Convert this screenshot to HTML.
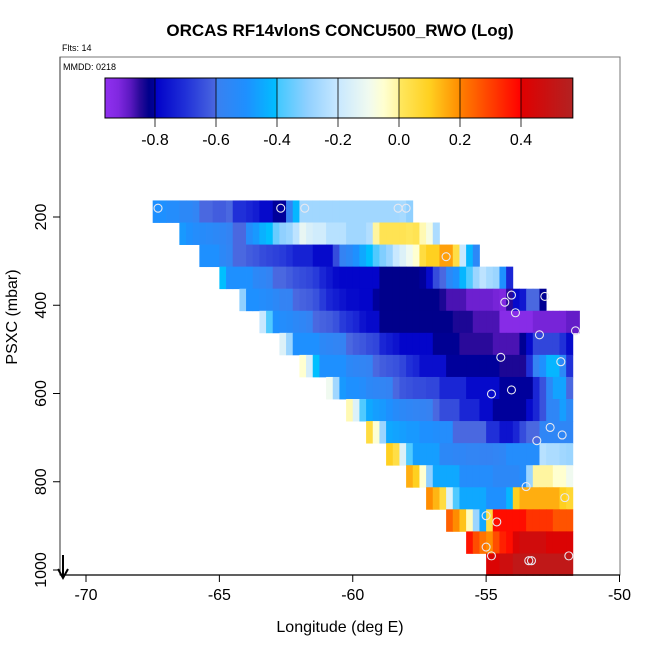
<!DOCTYPE html>
<html><head><meta charset="utf-8">
<style>
html,body{margin:0;padding:0;background:#fff;}
svg{display:block;font-family:"Liberation Sans",sans-serif;}
</style></head>
<body>
<svg id="chart" width="650" height="650" viewBox="0 0 650 650" xmlns="http://www.w3.org/2000/svg">
<defs><linearGradient id="cbgrad" x1="0" x2="1" y1="0" y2="0"></linearGradient></defs>
<text x="340" y="36" text-anchor="middle" font-size="17" font-weight="bold">ORCAS RF14vlonS CONCU500_RWO (Log)</text>
<text x="62" y="51" font-size="9">Flts: 14</text>
<rect x="60" y="57" width="560" height="518" fill="none" stroke="#777" stroke-width="1"/>
<text x="63" y="70" font-size="9">MMDD: 0218</text>
<g id="heat"></g>
<g id="pts"></g>
<g id="cbar"></g>
<g id="axes"></g>
<line x1="63" y1="555" x2="63" y2="577" stroke="#000" stroke-width="2"/>
<path d="M58,569 L63,578 L68,569" fill="none" stroke="#000" stroke-width="2"/>
<text x="340" y="632" text-anchor="middle" font-size="16">Longitude (deg E)</text>
<text transform="translate(17,317) rotate(-90)" text-anchor="middle" font-size="16">PSXC (mbar)</text>
</svg>
<script>
const xTicks = [-70, -65, -60, -55, -50];
const yTicks = [200, 400, 600, 800, 1000];
const cbTicks = [-0.8, -0.6, -0.4, -0.2, 0.0, 0.2, 0.4];
const cbTickLabels = ["-0.8", "-0.6", "-0.4", "-0.2", "0.0", "0.2", "0.4"];
const lonStart = -67.5;
const lonStep = 0.25;
const pStart = 162.5;
const pStep = 50;
const rowStart = [0,4,7,10,13,16,19,22,26,29,32,35,38,41,44,47,50];
const rowValues = [
[-0.5,-0.5,-0.52,-0.52,-0.55,-0.55,-0.57,-0.6,-0.6,-0.62,-0.62,-0.6,-0.7,-0.7,-0.72,-0.74,-0.78,-0.78,-0.8,-0.8,-0.58,-0.42,-0.27,-0.27,-0.27,-0.27,-0.27,-0.27,-0.27,-0.27,-0.27,-0.27,-0.27,-0.27,-0.27,-0.27,-0.27,-0.26,-0.3],
[-0.48,-0.5,-0.52,-0.53,-0.54,-0.55,-0.56,-0.58,-0.6,-0.6,-0.52,-0.48,-0.43,-0.4,-0.35,-0.3,-0.28,-0.22,-0.12,-0.16,-0.18,-0.18,-0.23,-0.23,-0.23,-0.27,-0.27,-0.27,-0.24,0.0,0.02,0.02,0.02,0.02,0.01,0.02,-0.02,-0.08,-0.25],
[-0.5,-0.5,-0.5,-0.55,-0.57,-0.6,-0.6,-0.62,-0.63,-0.65,-0.66,-0.67,-0.68,-0.7,-0.73,-0.73,-0.73,-0.78,-0.78,-0.78,-0.65,-0.58,-0.55,-0.5,-0.45,-0.4,-0.38,-0.32,-0.28,-0.2,-0.15,-0.1,-0.05,0.05,0.1,0.1,0.17,0.17,0.04,-0.2,-0.42,-0.55],
[-0.4,-0.5,-0.5,-0.5,-0.5,-0.55,-0.56,-0.58,-0.6,-0.6,-0.62,-0.64,-0.65,-0.66,-0.68,-0.72,-0.75,-0.78,-0.79,-0.79,-0.79,-0.79,-0.79,-0.79,-0.82,-0.82,-0.82,-0.82,-0.82,-0.82,-0.8,-0.78,-0.65,-0.6,-0.55,-0.5,-0.42,-0.38,-0.28,-0.22,-0.26,-0.28,-0.5,-0.72],
[-0.3,-0.5,-0.5,-0.52,-0.53,-0.55,-0.58,-0.58,-0.6,-0.61,-0.62,-0.64,-0.68,-0.72,-0.74,-0.76,-0.78,-0.78,-0.79,-0.79,-0.8,-0.82,-0.82,-0.82,-0.82,-0.82,-0.82,-0.82,-0.82,-0.82,-0.84,-0.87,-0.87,-0.87,-0.9,-0.9,-0.9,-0.9,-0.91,-0.92,-0.85,-0.78,-0.75,-0.6,-0.6,-0.81],
[-0.2,-0.38,-0.5,-0.52,-0.53,-0.55,-0.56,-0.58,-0.6,-0.61,-0.62,-0.64,-0.68,-0.7,-0.72,-0.76,-0.78,-0.78,-0.82,-0.82,-0.82,-0.82,-0.82,-0.82,-0.82,-0.82,-0.82,-0.82,-0.82,-0.84,-0.84,-0.84,-0.87,-0.87,-0.87,-0.87,-0.94,-0.94,-0.94,-0.94,-0.94,-0.91,-0.91,-0.91,-0.91,-0.91,-0.89,-0.89],
[-0.15,-0.28,-0.5,-0.5,-0.5,-0.5,-0.55,-0.56,-0.57,-0.58,-0.6,-0.62,-0.63,-0.65,-0.66,-0.72,-0.74,-0.76,-0.79,-0.79,-0.79,-0.79,-0.79,-0.81,-0.81,-0.81,-0.81,-0.85,-0.85,-0.85,-0.85,-0.85,-0.87,-0.87,-0.87,-0.87,-0.81,-0.78,-0.66,-0.66,-0.66,-0.66,-0.7,-0.78],
[-0.05,-0.17,-0.4,-0.5,-0.5,-0.5,-0.5,-0.55,-0.56,-0.57,-0.58,-0.6,-0.62,-0.63,-0.64,-0.66,-0.7,-0.72,-0.77,-0.77,-0.77,-0.77,-0.8,-0.8,-0.8,-0.8,-0.8,-0.8,-0.8,-0.8,-0.84,-0.84,-0.84,-0.84,-0.7,-0.58,-0.5,-0.42,-0.42,-0.55,-0.7],
[-0.1,-0.27,-0.48,-0.5,-0.5,-0.52,-0.55,-0.56,-0.57,-0.58,-0.6,-0.63,-0.64,-0.65,-0.65,-0.66,-0.66,-0.72,-0.72,-0.72,-0.72,-0.78,-0.78,-0.78,-0.78,-0.78,-0.8,-0.8,-0.8,-0.8,-0.8,-0.72,-0.64,-0.55,-0.46,-0.46,-0.6],
[-0.02,-0.15,-0.38,-0.45,-0.47,-0.48,-0.5,-0.53,-0.55,-0.56,-0.57,-0.58,-0.59,-0.6,-0.65,-0.65,-0.65,-0.72,-0.72,-0.72,-0.78,-0.78,-0.8,-0.8,-0.8,-0.8,-0.8,-0.78,-0.72,-0.64,-0.56,-0.56,-0.47,-0.55],
[0.05,-0.06,-0.28,-0.45,-0.46,-0.47,-0.48,-0.48,-0.5,-0.5,-0.51,-0.52,-0.52,-0.6,-0.6,-0.6,-0.6,-0.6,-0.7,-0.7,-0.76,-0.76,-0.72,-0.65,-0.6,-0.6,-0.56,-0.56,-0.56,-0.56,-0.56],
[0.1,0.04,-0.15,-0.38,-0.47,-0.47,-0.47,-0.47,-0.55,-0.55,-0.56,-0.56,-0.57,-0.57,-0.58,-0.58,-0.57,-0.56,-0.52,-0.52,-0.52,-0.52,-0.52,-0.23,-0.25,-0.25,-0.27,-0.28],
[0.15,0.1,-0.05,-0.3,-0.45,-0.45,-0.45,-0.45,-0.52,-0.52,-0.52,-0.52,-0.52,-0.55,-0.55,-0.55,-0.55,-0.52,-0.28,0.0,0.0,0.0,-0.05,-0.05,-0.1],
[0.2,0.14,0.05,-0.15,-0.38,-0.45,-0.45,-0.45,-0.45,-0.5,-0.5,-0.5,-0.42,0.1,0.15,0.15,0.15,0.15,0.15,0.15,0.1,0.07],
[0.25,0.2,0.12,-0.03,-0.28,-0.45,0.05,0.38,0.38,0.38,0.38,0.38,0.32,0.32,0.32,0.32,0.27,0.27,0.27],
[0.37,0.28,0.22,0.2,0.28,0.35,0.38,0.42,0.46,0.46,0.46,0.46,0.42,0.42,0.42,0.42],
[0.42,0.42,0.47,0.47,0.52,0.52,0.52,0.52,0.52,0.52,0.52,0.52,0.52]
];
const pointLon = [-67.3,-62.7,-61.8,-58.3,-58.0,-56.5,-54.05,-52.8,-54.3,-53.9,-53.0,-51.65,-54.45,-52.2,-54.8,-54.05,-52.6,-52.15,-53.1,-53.5,-52.05,-55.0,-54.6,-55.0,-54.8,-53.3,-53.4,-51.9];
const pointP = [180,180,180,180,180,290,377,380,393,417,467,458,518,528,601,592,677,694,707,811,836,877,891,948,968,979,979,968];

const NS = "http://www.w3.org/2000/svg";
const xScale = lon => 86 + (lon + 70) * 26.675;
const yScale = p => 217 + (p - 200) * 0.44125;
const cbScale = v => 399 + v * 305;

const stops = [[-0.964,'#9030f0'],[-0.92,'#8028e0'],[-0.88,'#5a18c0'],[-0.85,'#2a0a9a'],[-0.82,'#00008b'],[-0.8,'#00009b'],[-0.7999,'#0000c8'],[-0.7,'#2030d8'],[-0.6,'#4a68e0'],[-0.5999,'#3a80f0'],[-0.5,'#1e90ff'],[-0.4,'#00bfff'],[-0.3999,'#40c8ff'],[-0.3,'#90d0ff'],[-0.2,'#c8e8ff'],[-0.1,'#f0faf0'],[-0.05,'#ffffd0'],[0,'#fff5a0'],[0.0001,'#ffe860'],[0.1,'#ffd020'],[0.2,'#ff8c00'],[0.2001,'#ff8000'],[0.3,'#ff4000'],[0.4,'#ff0000'],[0.4001,'#e00000'],[0.57,'#b22222']];
function hex(h){return [parseInt(h.substr(1,2),16),parseInt(h.substr(3,2),16),parseInt(h.substr(5,2),16)];}
function colorOf(v){
  if(v<=stops[0][0]) return stops[0][1];
  for(let k=1;k<stops.length;k++){
    if(v<=stops[k][0]){
      const a=hex(stops[k-1][1]), b=hex(stops[k][1]);
      const t=(v-stops[k-1][0])/(stops[k][0]-stops[k-1][0]);
      return 'rgb('+a.map((c,j)=>Math.round(c+(b[j]-c)*t)).join(',')+')';
    }
  }
  return stops[stops.length-1][1];
}

const heat = document.getElementById('heat');
rowValues.forEach((vals, r) => {
  const p0 = pStart + r * pStep, p1 = p0 + pStep;
  const y0 = yScale(p0), y1 = yScale(p1);
  vals.forEach((v, j) => {
    const lon0 = lonStart + (rowStart[r] + j) * lonStep;
    const x0 = xScale(lon0), x1 = xScale(lon0 + lonStep);
    const rc = document.createElementNS(NS, 'rect');
    rc.setAttribute('x', x0); rc.setAttribute('y', y0);
    rc.setAttribute('width', x1 - x0 + 0.4); rc.setAttribute('height', y1 - y0 + 0.4);
    rc.setAttribute('fill', colorOf(v));
    
    
    heat.appendChild(rc);
  });
});

const pts = document.getElementById('pts');
pointLon.forEach((lon, k) => {
  const c = document.createElementNS(NS, 'circle');
  c.setAttribute('cx', xScale(lon)); c.setAttribute('cy', yScale(pointP[k]));
  c.setAttribute('r', 4); c.setAttribute('fill', 'none');
  c.setAttribute('stroke', '#e8e8f0'); c.setAttribute('stroke-width', '1.1');
  
  
  pts.appendChild(c);
});

const grad = document.getElementById('cbgrad');
const vmin = -0.964, vmax = 0.57;
stops.forEach(s => {
  const st = document.createElementNS(NS, 'stop');
  st.setAttribute('offset', ((s[0] - vmin) / (vmax - vmin)).toFixed(5));
  st.setAttribute('stop-color', s[1]);
  grad.appendChild(st);
});
const cbar = document.getElementById('cbar');
const bar = document.createElementNS(NS, 'rect');
bar.setAttribute('x', cbScale(vmin)); bar.setAttribute('y', 78);
bar.setAttribute('width', cbScale(vmax) - cbScale(vmin)); bar.setAttribute('height', 40);
bar.setAttribute('fill', 'url(#cbgrad)'); bar.setAttribute('stroke', '#000'); bar.setAttribute('stroke-width', '1');


cbar.appendChild(bar);
cbTicks.forEach((v, k) => {
  const x = cbScale(v);
  const l = document.createElementNS(NS, 'line');
  l.setAttribute('x1', x); l.setAttribute('x2', x); l.setAttribute('y1', 78); l.setAttribute('y2', 127);
  l.setAttribute('stroke', '#000'); l.setAttribute('stroke-width', '0.8');
  
  
  cbar.appendChild(l);
  const t = document.createElementNS(NS, 'text');
  t.setAttribute('x', x); t.setAttribute('y', 145); t.setAttribute('text-anchor', 'middle'); t.setAttribute('font-size', '16');
  t.textContent = cbTickLabels[k];
  
  
  cbar.appendChild(t);
});

const axes = document.getElementById('axes');
function mk(tag, attrs, name){
  const e = document.createElementNS(NS, tag);
  for (const k in attrs) e.setAttribute(k, attrs[k]);
  
  
  axes.appendChild(e); return e;
}
mk('line', {x1:60, x2:620, y1:575, y2:575, stroke:'#000', 'stroke-width':1.2}, 'x-axis-line');
mk('line', {x1:60, x2:60, y1:57, y2:575, stroke:'#555', 'stroke-width':1.2}, 'y-axis-line');
xTicks.forEach(v => {
  const x = xScale(v);
  mk('line', {x1:x, x2:x, y1:575, y2:582, stroke:'#000'}, 'x-tick');
  const t = mk('text', {x:x, y:600, 'text-anchor':'middle', 'font-size':16}, 'x-tick-label');
  t.textContent = String(v);
});
yTicks.forEach(v => {
  const y = yScale(v);
  mk('line', {x1:53, x2:60, y1:y, y2:y, stroke:'#000'}, 'y-tick');
  const t = mk('text', {transform:'translate(46,'+y+') rotate(-90)', 'text-anchor':'middle', 'font-size':16}, 'y-tick-label');
  t.textContent = String(v);
});
</script>
</body></html>
